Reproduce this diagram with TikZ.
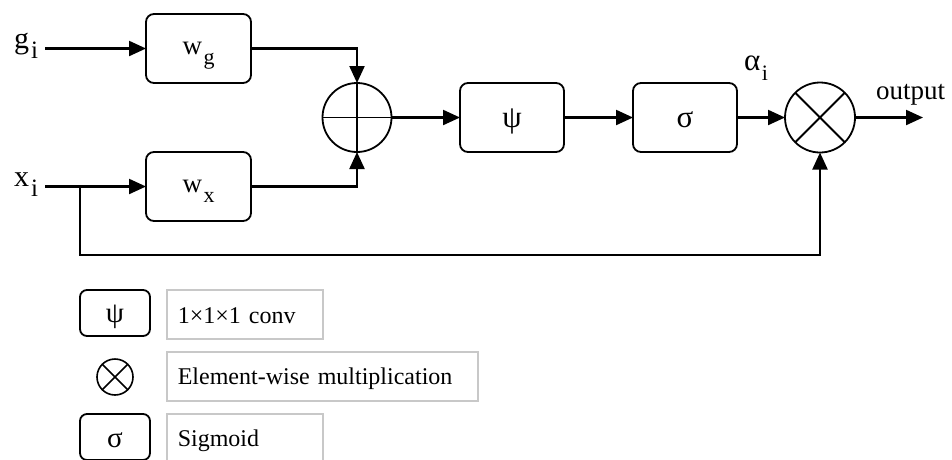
\documentclass[tikz,border=0pt]{standalone}
\usepackage{fontspec}
\setmainfont{Liberation Serif}
\usetikzlibrary{arrows.meta}
\definecolor{boxgray}{RGB}{200,200,200}
\newcommand\lsub[1]{\kern1.5pt\raisebox{-10pt}{\fontsize{22}{22}\selectfont #1}}
\newcommand\bsub[1]{\kern2pt\raisebox{-10pt}{\fontsize{25}{25}\selectfont #1}}
\begin{document}
\begin{tikzpicture}[x=1pt,y=-1pt,
  every node/.style={font=\fontsize{27}{30}\selectfont},
  blk/.style={draw, line width=1.8pt, rounded corners=8pt, minimum width=105pt,
    minimum height=69pt, inner sep=0pt, outer sep=0pt},
  lblk/.style={draw, line width=1.8pt, rounded corners=7pt, minimum width=70pt,
    minimum height=46pt, inner sep=0pt, outer sep=0pt, font=\fontsize{29}{30}\selectfont},
  greek/.style={font=\fontsize{31}{32}\selectfont},
  biglbl/.style={font=\fontsize{30}{32}\selectfont},
  sumnode/.style={draw, circle, line width=1.8pt, inner sep=0pt, outer sep=0pt},
  conn/.style={line width=2.2pt, -{Triangle[length=17pt,width=15pt]}},
  tbox/.style={draw=boxgray, line width=1.6pt, anchor=west, inner xsep=11pt,
    inner ysep=0pt, align=left, minimum height=49pt, text height=20pt, text depth=5pt,
    font=\fontsize{24}{28}\selectfont},
  lbl/.style={anchor=base west, inner sep=0pt}]
\useasboundingbox (0,0) rectangle (952,459);

% main blocks
\node[blk, text height=20pt, text depth=8pt] (wg) at (198.5,48.5) {w\lsub{g}};
\node[blk, text height=20pt, text depth=8pt] (wx) at (198.5,186.5) {w\lsub{x}};
\node[sumnode, minimum size=69pt] (plus) at (357,117.5) {};
\node[blk, greek, minimum width=104pt, text height=20pt, text depth=1pt] (psi) at (512,117.5) {ψ};
\node[blk, greek, minimum width=104pt, text height=20pt, text depth=1pt] (sig) at (685,117.5) {σ};
\node[sumnode, minimum size=70pt] (times) at (820,117.5) {};
\draw[line width=1.8pt] (plus.north) -- (plus.south) (plus.west) -- (plus.east);
\draw[line width=1.8pt] (times.north east) -- (times.south west)
  (times.north west) -- (times.south east);

% labels
\node[lbl, biglbl] (gi) at (14,48.5) {g\bsub{i}};
\node[lbl, biglbl] (xi) at (14,186.5) {x\bsub{i}};
\node[lbl, greek] (alpha) at (744,70) {α\lsub{i}};
\node[lbl] (out) at (876,99) {output};

% coordinates
\coordinate (gs) at (45,48.5);
\coordinate (xs) at (45,186.5);
\coordinate (xb) at (80,186.5);
\coordinate (bl) at (80,255);
\coordinate (oe) at (923,117.5);

% connectors
\draw[conn] (gs) -- (wg.west);
\draw[conn] (xs) -- (wx.west);
\draw[conn] (wg.east) -| (plus.north);
\draw[conn] (wx.east) -| (plus.south);
\draw[conn] (plus.east) -- (psi.west);
\draw[conn] (psi.east) -- (sig.west);
\draw[conn] (sig.east) -- (times.west);
\draw[conn] (times.east) -- (oe);
\draw[conn] (xb) -- (bl) -| (times.south);

% legend
\node[lblk, text height=20pt, text depth=2pt] (lpsi) at (115,313) {ψ};
\node[sumnode, minimum size=36pt, line width=1.6pt] (ltimes) at (115,377) {};
\draw[line width=1.6pt] (ltimes.north east) -- (ltimes.south west)
  (ltimes.north west) -- (ltimes.south east);
\node[lblk, text height=20pt, text depth=0pt] (lsig) at (115,437) {σ};

\node[tbox, text width=134pt, text depth=3pt] (t1) at (166,314.5) {1×1×1 conv};
\node[tbox, text width=289pt] (t2) at (166,376.5) {Element-wise multiplication};
\node[tbox, text width=134pt] (t3) at (166,438.5) {Sigmoid};
\end{tikzpicture}
\end{document}
